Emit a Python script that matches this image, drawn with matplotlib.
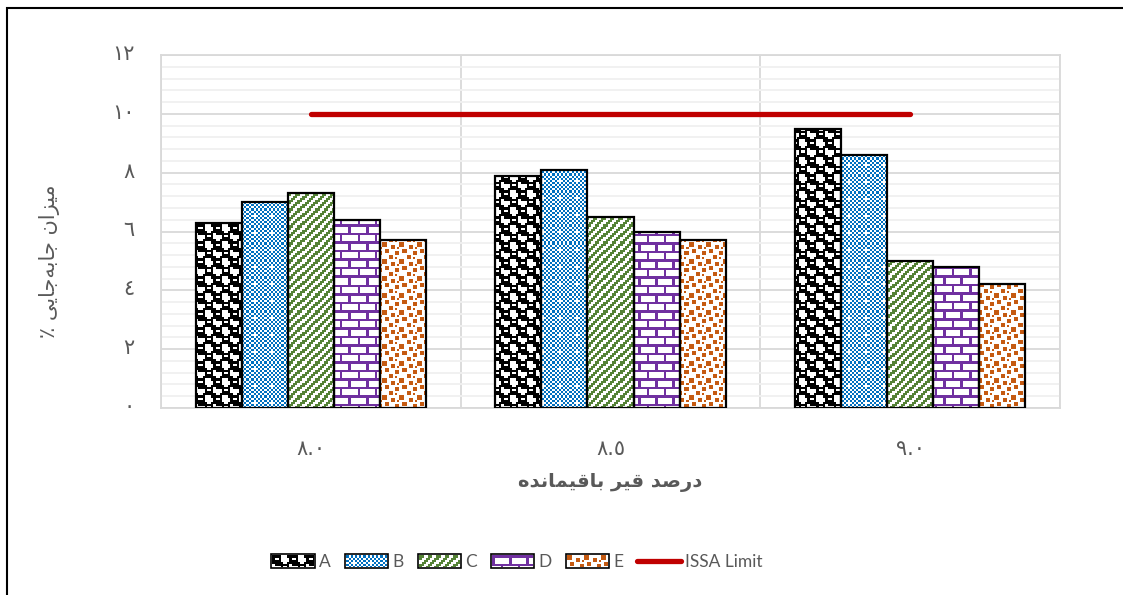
import numpy as np
import matplotlib
matplotlib.use("Agg")
import matplotlib.pyplot as plt
import matplotlib.transforms as mtransforms
from matplotlib.patches import Patch, Rectangle
from matplotlib.lines import Line2D
from matplotlib.colors import to_rgb

# ---------------- data ----------------
categories = ["\u0668.\u0660", "\u0668.\u0665", "\u0669.\u0660"]   # 8.0, 8.5, 9.0
series_names = ["A", "B", "C", "D", "E"]
values_A = [6.3, 7.9, 9.5]
values_B = [7.0, 8.1, 8.6]
values_C = [7.3, 6.5, 5.0]
values_D = [6.4, 6.0, 4.8]
values_E = [5.7, 5.7, 4.2]
issa_limit = [10, 10, 10]
limit_label = "ISSA Limit"
y_ticks = [0, 2, 4, 6, 8, 10, 12]
y_tick_labels = ["\u0660", "\u0662", "\u0664", "\u0666", "\u0668",
                 "\u0661\u0660", "\u0661\u0662"]

# Persian labels, pre-shaped into presentation forms and written in visual
# (left-to-right) order, because matplotlib does no Arabic shaping / bidi.
# "میزان جابه‌جایی ٪"
y_label = ("\u066A " + "\uFEF0\uFEF3\uFE8E\uFE9F\uFEEA\uFE91\uFE8E\uFE9F"
           + " " + "\uFEE5\uFE8D\uFEB0\uFEF4\uFEE3")
# "درصد قیر باقیمانده"
x_label = ("\uFEE9\uFEAA\uFEE7\uFE8E\uFEE4\uFEF4\uFED7\uFE8E\uFE91" + " "
           + "\uFEAE\uFEF4\uFED7" + " " + "\uFEAA\uFEBB\uFEAD\uFEA9")

series_values = [values_A, values_B, values_C, values_D, values_E]
series_colors = ["#000000", "#0070C0", "#548235", "#7030A0", "#C55A11"]

# ---------------- fill patterns (8x8 tiles) ----------------
T_SPHERE = np.array([
    [1, 1, 1, 1, 0, 0, 0, 1],
    [1, 0, 0, 1, 0, 0, 0, 0],
    [1, 1, 1, 1, 0, 0, 0, 0],
    [1, 1, 1, 1, 1, 0, 0, 1],
    [0, 1, 1, 1, 1, 1, 1, 1],
    [0, 0, 0, 0, 1, 0, 0, 1],
    [0, 0, 0, 0, 1, 1, 1, 1],
    [1, 0, 0, 1, 1, 1, 1, 1]])
T_CHECK = np.array([[(r + c) % 2 == 0 for c in range(8)] for r in range(8)], int)
T_CHECK[3, 2:5] = 0
T_CHECK[2:5, 3] = 0
T_DIAG = np.array([[(r + c) % 4 < 2 for c in range(8)] for r in range(8)], int)
T_BRICK = np.array([
    [1, 1, 1, 1, 1, 1, 1, 1],
    [1, 0, 0, 0, 0, 0, 0, 0],
    [1, 0, 0, 0, 0, 0, 0, 0],
    [1, 0, 0, 0, 0, 0, 0, 0],
    [1, 1, 1, 1, 1, 1, 1, 1],
    [0, 0, 0, 0, 1, 0, 0, 0],
    [0, 0, 0, 0, 1, 0, 0, 0],
    [0, 0, 0, 0, 1, 0, 0, 0]])
T_CONFETTI = np.zeros((8, 8), int)
for (r, c) in [(0, 0), (1, 4), (3, 1), (4, 6), (6, 3)]:
    for dr in (0, 1):
        for dc in (0, 1):
            T_CONFETTI[(r + dr) % 8, (c + dc) % 8] = 1
T_CONFETTI[2, 7] = 1
T_CONFETTI[7, 6] = 1

series_tiles = [T_SPHERE, T_CHECK, T_DIAG, T_BRICK, T_CONFETTI]


def texture(tile, color, h, w, scale=2.125):
    ys = np.floor(np.arange(h) / scale).astype(int) % tile.shape[0]
    xs = np.floor(np.arange(w) / scale).astype(int) % tile.shape[1]
    mask = tile[np.ix_(ys, xs)].astype(bool)
    img = np.ones((h, w, 3))
    img[mask] = to_rgb(color)
    return img


# ---------------- figure ----------------
W_PX, H_PX, DPI = 1123, 595, 100
fig = plt.figure(figsize=(W_PX / DPI, H_PX / DPI), dpi=DPI)
ax_left, ax_bottom, ax_w, ax_h = 161, 187, 899, 353
ax = fig.add_axes([ax_left / W_PX, ax_bottom / H_PX, ax_w / W_PX, ax_h / H_PX])

x = np.arange(len(categories))
n = len(series_names)
bar_w = 1 / (n + 1.5)
xlim = (-0.5, len(categories) - 0.5)
ylim = (y_ticks[0], y_ticks[-1])

grid_major = "#D9D9D9"
grid_minor = "#F0F0F0"
text_gray = "#595959"

for i, (vals, col, tile) in enumerate(zip(series_values, series_colors, series_tiles)):
    pos = x + (i - (n - 1) / 2) * bar_w
    bars = ax.bar(pos, vals, bar_w, facecolor="white", edgecolor="none", zorder=3)
    tex = texture(tile, col, ax_h, ax_w)
    for b in bars:
        im = ax.imshow(tex, extent=(xlim[0], xlim[1], ylim[0], ylim[1]),
                       origin="upper", interpolation="nearest", aspect="auto",
                       zorder=3.2)
        im.set_clip_path(b)
    ax.bar(pos, vals, bar_w, fill=False, edgecolor="black", linewidth=1.6, zorder=3.4)

ax.plot(x, issa_limit, color="#C00000", linewidth=3.8, solid_capstyle="round", zorder=5)

ax.set_xlim(*xlim)
ax.set_ylim(*ylim)
ax.set_yticks(y_ticks)
ax.set_yticklabels(y_tick_labels)
ax.set_yticks(np.arange(ylim[0], ylim[1] + 0.01, 0.4), minor=True)
ax.set_xticks(x)
ax.set_xticklabels(categories)
ax.set_xticks(np.arange(xlim[0], xlim[1] + 0.01, 1.0), minor=True)

ax.set_axisbelow(True)
ax.grid(which="minor", axis="y", color=grid_minor, linewidth=1.3, zorder=0)
ax.grid(which="major", axis="y", color=grid_major, linewidth=1.3, zorder=0.5)
ax.grid(which="minor", axis="x", color=grid_major, linewidth=1.3, zorder=0.5)
for s in ax.spines.values():
    s.set_color(grid_major)
    s.set_linewidth(1.3)

ax.tick_params(axis="both", which="both", length=0)
ax.tick_params(axis="y", pad=19, labelsize=15, labelcolor=text_gray)
ax.tick_params(axis="x", pad=22, labelsize=15, labelcolor=text_gray)
lift = mtransforms.ScaledTranslation(0, 3 / DPI, fig.dpi_scale_trans)
for t in ax.get_yticklabels():
    t.set_fontfamily("DejaVu Sans")
    t.set_transform(t.get_transform() + lift)
for t in ax.get_xticklabels():
    t.set_fontfamily("DejaVu Sans")

ax.set_xlabel(x_label, fontsize=14, fontweight="bold", color=text_gray,
              family="DejaVu Sans")
ax.xaxis.label.set_va("center")
ax.xaxis.set_label_coords(0.5, ((H_PX - 483) - ax_bottom) / ax_h)

ax.set_ylabel(y_label, fontsize=15, color=text_gray, family="DejaVu Sans")
ax.yaxis.label.set_va("center")
ax.yaxis.set_label_coords((50 - ax_left) / ax_w, ((H_PX - 261) - ax_bottom) / ax_h)

# ---------------- legend ----------------
handles = [Patch(facecolor="white", edgecolor="black", linewidth=1.2)
           for _ in series_names]
handles.append(Line2D([0], [0], color="#C00000", linewidth=3.8, solid_capstyle="round"))
labels = series_names + [limit_label]
leg = fig.legend(handles, labels, loc="center",
                 bbox_to_anchor=(517 / W_PX, 1 - 562 / H_PX), ncol=6,
                 frameon=False, handlelength=2.5, handleheight=0.8,
                 handletextpad=0.25, columnspacing=0.8,
                 prop={"family": "Lato", "size": 12.5})
for t in leg.get_texts():
    t.set_color(text_gray)

# outer chart frame
fig.add_artist(Rectangle((7 / W_PX, -0.1), 1.2, (H_PX - 8) / H_PX + 0.1,
                         transform=fig.transFigure, fill=False,
                         edgecolor="black", linewidth=1.5))

# paint the pattern into the legend swatches
fig.canvas.draw()
for patch, col, tile in zip(leg.get_patches(), series_colors, series_tiles):
    bb = patch.get_window_extent()
    x0, y0 = int(round(bb.x0)) + 1, int(round(bb.y0)) + 1
    x1, y1 = int(round(bb.x1)) - 1, int(round(bb.y1)) - 1
    fig.figimage(texture(tile, col, y1 - y0, x1 - x0), xo=x0, yo=y0,
                 origin="upper", zorder=10)

fig.savefig("out.png", dpi=DPI)
